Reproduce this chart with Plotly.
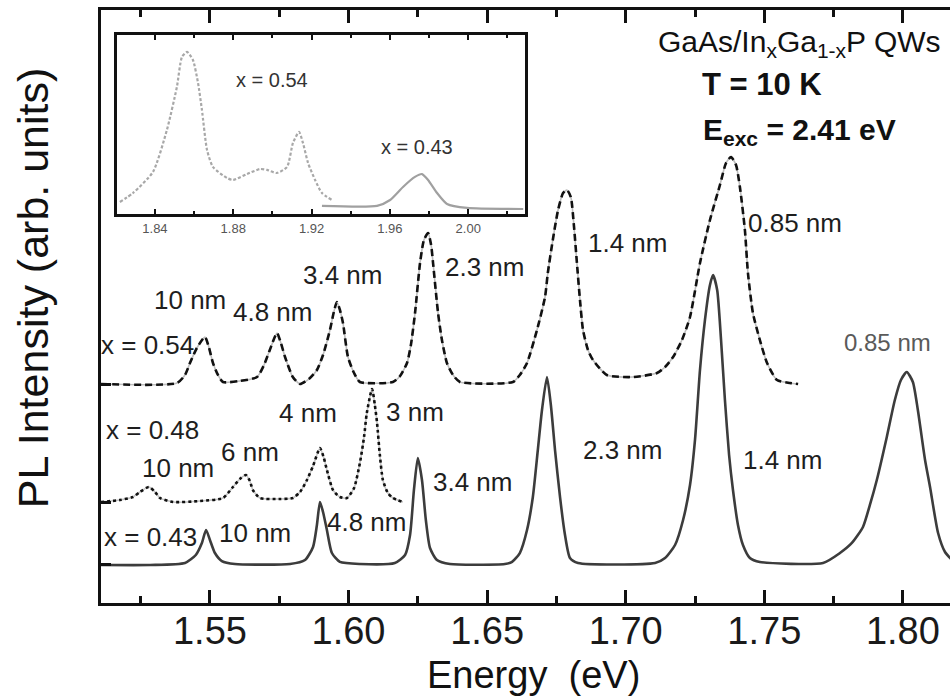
import plotly.graph_objects as go

# --- PL spectra, GaAs/InxGa1-xP quantum wells (intensity above each baseline, arb. units) ---
e_x043 = [1.5107, 1.5284, 1.5410, 1.5449, 1.5471, 1.5486, 1.5500, 1.5518, 1.5543, 1.5590,
          1.5789, 1.5843, 1.5872, 1.5886, 1.5897, 1.5908, 1.5922, 1.5940, 1.5969, 1.6041,
          1.6167, 1.6204, 1.6222, 1.6236, 1.6250, 1.6265, 1.6279, 1.6294, 1.6319, 1.6366,
          1.6564, 1.6590, 1.6618, 1.6644, 1.6665, 1.6683, 1.6698, 1.6716, 1.6730, 1.6745,
          1.6763, 1.6781, 1.6799, 1.6828, 1.7106, 1.7142, 1.7178, 1.7207, 1.7232, 1.7250,
          1.7268, 1.7286, 1.7304, 1.7315, 1.7330, 1.7344, 1.7358, 1.7373, 1.7387, 1.7405,
          1.7423, 1.7448, 1.7484, 1.7712, 1.7773, 1.7816, 1.7856, 1.7881, 1.7906, 1.7942,
          1.7971, 1.7993, 1.8014, 1.8036, 1.8054, 1.8080, 1.8098, 1.8127, 1.8152, 1.8177]
i_x043 = [0.000, 0.000, 0.034, 0.169, 0.371, 0.590, 0.422, 0.202, 0.067, 0.017,
          0.017, 0.084, 0.304, 0.675, 1.062, 0.894, 0.590, 0.202, 0.051, 0.017,
          0.034, 0.169, 0.506, 1.265, 1.804, 1.433, 0.759, 0.287, 0.084, 0.017,
          0.017, 0.051, 0.202, 0.590, 1.147, 1.939, 2.614, 3.170, 2.698, 1.939,
          1.147, 0.506, 0.118, 0.034, 0.034, 0.118, 0.337, 0.759, 1.349, 2.108,
          3.288, 4.132, 4.722, 4.890, 4.637, 3.794, 2.782, 1.855, 1.265, 0.675,
          0.337, 0.118, 0.051, 0.034, 0.202, 0.371, 0.641, 1.012, 1.433, 2.159,
          2.782, 3.120, 3.255, 3.086, 2.614, 1.771, 1.315, 0.540, 0.219, 0.084]

e_x048 = [1.5107, 1.5175, 1.5222, 1.5247, 1.5280, 1.5302, 1.5320, 1.5367, 1.5464, 1.5547,
          1.5583, 1.5608, 1.5630, 1.5644, 1.5655, 1.5680, 1.5753, 1.5799, 1.5825, 1.5850,
          1.5872, 1.5897, 1.5911, 1.5922, 1.5944, 1.5969, 1.5994, 1.6020, 1.6041, 1.6056,
          1.6066, 1.6085, 1.6095, 1.6103, 1.6113, 1.6124, 1.6142, 1.6160, 1.6196]
i_x048 = [0.000, 0.034, 0.084, 0.169, 0.253, 0.169, 0.067, 0.000, 0.017, 0.067,
          0.253, 0.388, 0.455, 0.354, 0.202, 0.067, 0.051, 0.067, 0.169, 0.371,
          0.607, 0.911, 0.742, 0.540, 0.202, 0.084, 0.067, 0.236, 0.658, 1.096,
          1.501, 1.906, 1.636, 1.332, 0.793, 0.371, 0.152, 0.067, 0.000]

e_x054 = [1.5107, 1.5381, 1.5410, 1.5428, 1.5453, 1.5482, 1.5496, 1.5511, 1.5529, 1.5547,
          1.5608, 1.5670, 1.5695, 1.5716, 1.5742, 1.5756, 1.5771, 1.5799, 1.5825, 1.5861,
          1.5886, 1.5908, 1.5933, 1.5947, 1.5958, 1.5969, 1.5980, 1.5998, 1.6020, 1.6041,
          1.6160, 1.6186, 1.6211, 1.6225, 1.6240, 1.6258, 1.6272, 1.6287, 1.6298, 1.6305,
          1.6323, 1.6337, 1.6355, 1.6377, 1.6402, 1.6593, 1.6618, 1.6644, 1.6680, 1.6709,
          1.6719, 1.6737, 1.6756, 1.6774, 1.6788, 1.6802, 1.6813, 1.6824, 1.6835, 1.6846,
          1.6864, 1.6882, 1.6932, 1.7026, 1.7113, 1.7142, 1.7171, 1.7203, 1.7232, 1.7268,
          1.7304, 1.7340, 1.7362, 1.7380, 1.7398, 1.7412, 1.7430, 1.7441, 1.7459, 1.7484,
          1.7510, 1.7546, 1.7593, 1.7622]
i_x054 = [0.000, 0.017, 0.152, 0.354, 0.607, 0.793, 0.624, 0.354, 0.152, 0.034,
          0.051, 0.118, 0.320, 0.573, 0.860, 0.691, 0.455, 0.118, 0.000, 0.101,
          0.236, 0.489, 0.911, 1.214, 1.383, 1.248, 1.029, 0.455, 0.185, 0.034,
          0.034, 0.135, 0.354, 0.658, 1.197, 2.040, 2.428, 2.546, 2.344, 2.040,
          1.197, 0.742, 0.354, 0.152, 0.034, 0.034, 0.152, 0.354, 0.911, 1.467,
          1.872, 2.428, 2.934, 3.221, 3.272, 3.153, 2.681, 2.040, 1.417, 0.911,
          0.573, 0.405, 0.152, 0.118, 0.185, 0.287, 0.455, 0.742, 1.130, 2.040,
          2.766, 3.356, 3.727, 3.828, 3.693, 3.322, 2.597, 1.872, 1.197, 0.742,
          0.354, 0.067, 0.017, 0.000]

# vertical offsets of the stacked spectra
offsets = {"x043": 0.641, "x048": 1.703, "x054": 3.693}

# --- inset: barrier emission ---
e_in054 = [1.8221, 1.8288, 1.8390, 1.8461, 1.8512, 1.8538, 1.8564, 1.8594, 1.8620, 1.8640,
           1.8666, 1.8696, 1.8768, 1.8799, 1.8870, 1.8937, 1.8972, 1.9023, 1.9075, 1.9105,
           1.9136, 1.9156, 1.9182, 1.9218, 1.9253, 1.9304]
i_in054 = [0.067, 0.117, 0.235, 0.469, 0.709, 0.877, 0.905, 0.860, 0.732, 0.581,
           0.358, 0.263, 0.201, 0.190, 0.223, 0.251, 0.246, 0.229, 0.263, 0.397,
           0.458, 0.397, 0.285, 0.190, 0.117, 0.078]
e_in043 = [1.9253, 1.9534, 1.9601, 1.9667, 1.9728, 1.9764, 1.9795, 1.9841, 1.9892, 1.9994, 2.0281]
i_in043 = [0.045, 0.045, 0.078, 0.151, 0.207, 0.223, 0.190, 0.117, 0.056, 0.034, 0.028]

main_ticks = [1.55, 1.60, 1.65, 1.70, 1.75, 1.80]
inset_ticks = [1.84, 1.88, 1.92, 1.96, 2.00]

# peak labels (well widths) and composition labels: (text, energy, height)
peak_labels = [
    ("x = 0.54", 1.5276, 4.351), ("10 nm", 1.5428, 5.110), ("4.8 nm", 1.5727, 4.907),
    ("3.4 nm", 1.5980, 5.531), ("2.3 nm", 1.6492, 5.666), ("1.4 nm", 1.7008, 6.071),
    ("0.85 nm", 1.7611, 6.408),
    ("x = 0.48", 1.5291, 2.917), ("10 nm", 1.5385, 2.277), ("6 nm", 1.5644, 2.546),
    ("4 nm", 1.5854, 3.204), ("3 nm", 1.6240, 3.221),
    ("x = 0.43", 1.5284, 1.113), ("10 nm", 1.5662, 1.180), ("4.8 nm", 1.6066, 1.366),
    ("3.4 nm", 1.6449, 2.040), ("2.3 nm", 1.6990, 2.580), ("1.4 nm", 1.7567, 2.411),
]
faint_label = ("0.85 nm", 1.7946, 4.401)
inset_labels = [("x = 0.54", 1.8998, 0.749), ("x = 0.43", 1.9738, 0.374)]

FONT = "Arial, Liberation Sans, sans-serif"

fig = go.Figure()


def shifted(vals, key):
    return [v + offsets[key] for v in vals]


# x = 0.54: dashed
fig.add_trace(go.Scatter(x=e_x054, y=shifted(i_x054, "x054"), mode="lines",
                         line=dict(color="#bdbdbd", width=1.6, shape="spline", smoothing=0.6),
                         hoverinfo="skip", showlegend=False))
fig.add_trace(go.Scatter(x=e_x054, y=shifted(i_x054, "x054"), mode="lines",
                         line=dict(color="#111111", width=2.6, dash="7px,4px",
                                   shape="spline", smoothing=0.6),
                         showlegend=False))
# x = 0.48: dotted
fig.add_trace(go.Scatter(x=e_x048, y=shifted(i_x048, "x048"), mode="lines",
                         line=dict(color="#c4c4c4", width=1.6, shape="spline", smoothing=0.6),
                         hoverinfo="skip", showlegend=False))
fig.add_trace(go.Scatter(x=e_x048, y=shifted(i_x048, "x048"), mode="lines",
                         line=dict(color="#111111", width=2.6, dash="3px,3px",
                                   shape="spline", smoothing=0.6),
                         showlegend=False))
# x = 0.43: solid
fig.add_trace(go.Scatter(x=e_x043, y=shifted(i_x043, "x043"), mode="lines",
                         line=dict(color="#3c3c3c", width=2.6, shape="spline", smoothing=0.6),
                         showlegend=False))

# inset curves
fig.add_trace(go.Scatter(x=e_in054, y=i_in054, xaxis="x2", yaxis="y2", mode="lines",
                         line=dict(color="#a8a8a8", width=2.2, dash="3px,2px",
                                   shape="spline", smoothing=0.6),
                         showlegend=False))
fig.add_trace(go.Scatter(x=e_in043, y=i_in043, xaxis="x2", yaxis="y2", mode="lines",
                         line=dict(color="#a0a0a0", width=2.2, shape="spline", smoothing=0.6),
                         showlegend=False))


def label(text, x, y, xref, yref, size, color="#111111", angle=0):
    return dict(x=x, y=y, xref=xref, yref=yref, text=text, showarrow=False,
                xanchor="center", yanchor="middle", textangle=angle,
                font=dict(family=FONT, size=size, color=color))


annotations = [label(t, ex, yy, "x", "y", 26, "#1e1e1e") for t, ex, yy in peak_labels]
annotations.append(label(faint_label[0], faint_label[1], faint_label[2], "x", "y", 24, "#5a5a5a"))
annotations += [label(t, ex, yy, "x2", "y2", 20, "#333333") for t, ex, yy in inset_labels]

# sample description
annotations += [
    label("GaAs/In<sub>x</sub>Ga<sub>1-x</sub>P QWs", 0.823, 0.943, "paper", "paper", 30),
    label("<b>T = 10 K</b>", 0.779, 0.874, "paper", "paper", 31),
    label("<b>E<sub>exc</sub> = 2.41 eV</b>", 0.823, 0.795, "paper", "paper", 30),
]

# axis titles
annotations += [
    label("PL Intensity (arb. units)", -0.080, 0.531, "paper", "paper", 43, angle=-90),
    label("Energy  (eV)", 0.509, -0.121, "paper", "paper", 38),
]

fig.update_layout(
    width=950, height=696,
    margin=dict(l=101, r=0, t=10, b=93),
    paper_bgcolor="white", plot_bgcolor="white",
    font=dict(family=FONT, color="#111111"),
    annotations=annotations,
    xaxis=dict(
        range=[1.5107, 1.817], tickvals=main_ticks, tickformat=".2f",
        ticks="inside", ticklen=13, tickwidth=2.5, tickcolor="#111111",
        minor=dict(dtick=0.025, tick0=1.525, ticks="inside", ticklen=7, tickwidth=2.5,
                   tickcolor="#111111"),
        showline=True, linewidth=3, linecolor="#111111", mirror="ticks",
        showgrid=False, zeroline=False, ticklabelstandoff=-8,
        tickfont=dict(family=FONT, size=38, color="#1a1a1a"),
    ),
    yaxis=dict(
        range=[0, 10], tickvals=[offsets["x043"], offsets["x048"], offsets["x054"]],
        showticklabels=False, ticks="inside", ticklen=10, tickwidth=2.5, tickcolor="#111111",
        showline=True, linewidth=3, linecolor="#111111", mirror=False,
        showgrid=False, zeroline=False,
    ),
    xaxis2=dict(
        domain=[0.0188, 0.4994], anchor="y2", range=[1.8206, 2.029],
        tickvals=inset_ticks, tickformat=".2f",
        ticks="inside", ticklen=5, tickwidth=2, tickcolor="#111111",
        minor=dict(dtick=0.02, tick0=1.82, ticks="inside", ticklen=3, tickwidth=2,
                   tickcolor="#111111"),
        showline=True, linewidth=3, linecolor="#111111", mirror="ticks",
        showgrid=False, zeroline=False,
        tickfont=dict(family=FONT, size=13, color="#555555"),
    ),
    yaxis2=dict(
        domain=[0.656, 0.958], anchor="x2", range=[0, 1],
        showticklabels=False, ticks="",
        showline=True, linewidth=3, linecolor="#111111", mirror=True,
        showgrid=False, zeroline=False,
    ),
)

fig.write_html("out.html")
